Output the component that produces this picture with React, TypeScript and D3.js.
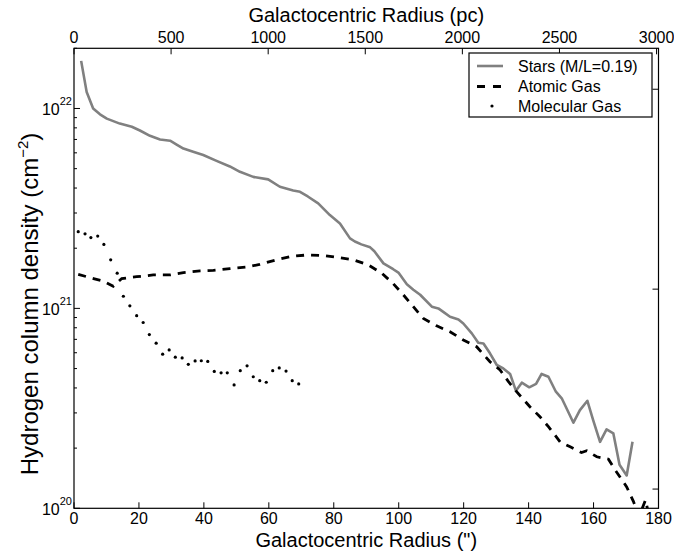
import React from "react";
import * as d3 from "d3";

// ---------- data ----------
const starsR = [2.2, 3.9, 5.9, 8.0, 10.1, 14.1, 17.8, 20.3, 23.4, 26.5, 29.6, 31.6, 33.7, 36.7, 39.8, 43.9, 48.0, 51.1, 55.2, 59.8, 63.4, 67.5, 69.6, 72.0, 75.2, 78.8, 81.9, 85.0, 86.5, 88.5, 91.2, 92.5, 95.3, 98.3, 99.9, 102.5, 104.5, 106.6, 110.2, 112.2, 113.5, 115.8, 118.4, 119.9, 122.5, 124.5, 126.1, 128.1, 130.2, 132.2, 134.3, 136.1, 137.9, 140.2, 142.3, 144.0, 146.1, 148.4, 150.2, 153.8, 155.8, 158.1, 159.9, 162.0, 164.0, 166.1, 168.0, 170.2, 172.0];
const starsN = [1.73e22, 1.21e22, 1.0e22, 9.35e21, 8.9e21, 8.4e21, 8.1e21, 7.76e21, 7.3e21, 7.0e21, 6.9e21, 6.6e21, 6.3e21, 6.07e21, 5.85e21, 5.47e21, 5.13e21, 4.82e21, 4.55e21, 4.42e21, 4.06e21, 3.89e21, 3.83e21, 3.63e21, 3.35e21, 2.93e21, 2.66e21, 2.24e21, 2.16e21, 2.09e21, 2.02e21, 1.93e21, 1.68e21, 1.57e21, 1.51e21, 1.32e21, 1.24e21, 1.17e21, 1.02e21, 1.0e21, 9.66e20, 9.08e20, 8.8e20, 8.4e20, 7.5e20, 6.73e20, 6.68e20, 5.96e20, 5.21e20, 5.01e20, 4.7e20, 3.87e20, 4.25e20, 4.03e20, 4.19e20, 4.7e20, 4.55e20, 3.83e20, 3.55e20, 2.68e20, 3.1e20, 3.45e20, 2.75e20, 2.15e20, 2.48e20, 2.37e20, 1.65e20, 1.46e20, 2.15e20];

const atomicR = [1.3, 6.0, 9.0, 12.1, 14.7, 19.3, 24.4, 29.6, 33.7, 38.8, 42.9, 48.0, 53.2, 57.2, 62.4, 67.0, 71.7, 76.5, 81.0, 86.0, 90.6, 94.8, 98.3, 101.4, 104.5, 107.6, 111.5, 115.8, 119.9, 124.0, 128.1, 131.2, 133.8, 136.3, 140.4, 143.5, 146.1, 149.7, 152.8, 156.3, 157.9, 161.0, 164.6, 166.6, 170.2, 172.3, 174.0, 176.0, 178.0];
const atomicN = [1.48e21, 1.41e21, 1.37e21, 1.29e21, 1.41e21, 1.44e21, 1.47e21, 1.47e21, 1.51e21, 1.54e21, 1.55e21, 1.58e21, 1.61e21, 1.66e21, 1.75e21, 1.82e21, 1.85e21, 1.84e21, 1.8e21, 1.75e21, 1.65e21, 1.5e21, 1.33e21, 1.17e21, 1.02e21, 8.9e20, 8.2e20, 7.64e20, 6.95e20, 6.43e20, 5.41e20, 4.92e20, 4.3e20, 3.83e20, 3.22e20, 2.87e20, 2.56e20, 2.15e20, 2.03e20, 1.9e20, 1.94e20, 1.81e20, 1.76e20, 1.56e20, 1.28e20, 1.08e20, 9.1e19, 1.1e20, 7.9e19];

const molR = [1.3, 3.4, 5.2, 7.3, 9.2, 11.3, 13.3, 15.2, 17.2, 19.3, 21.3, 23.2, 25.3, 27.3, 29.3, 31.2, 33.3, 35.2, 37.3, 39.2, 41.2, 43.2, 45.3, 47.2, 49.3, 51.2, 53.3, 55.2, 57.2, 59.2, 61.2, 63.2, 65.3, 67.2, 69.2];
const molN = [2.42e21, 2.36e21, 2.26e21, 2.3e21, 2.09e21, 1.75e21, 1.5e21, 1.15e21, 1.03e21, 9.2e20, 8.5e20, 7.4e20, 6.7e20, 5.9e20, 6.2e20, 5.7e20, 5.65e20, 5.25e20, 5.46e20, 5.47e20, 5.43e20, 4.84e20, 4.76e20, 4.76e20, 4.14e20, 4.88e20, 5.16e20, 4.55e20, 4.35e20, 4.27e20, 4.88e20, 5.04e20, 4.86e20, 4.35e20, 4.19e20];

const xTicks = [0, 20, 40, 60, 80, 100, 120, 140, 160, 180];
const pcTicks = [0, 500, 1000, 1500, 2000, 2500, 3000];
const yMajor = [1e20, 1e21, 1e22];
const rightTicks = [1, 10, 100]; // M_sun / pc^2
const legendLabels = ["Stars (M/L=0.19)", "Atomic Gas", "Molecular Gas"];

const FONT = "'Liberation Sans', Arial, Helvetica, sans-serif";

export default function App() {
  const W = 674, H = 557;
  const L = 74, R = 658.5, T = 48.3, B = 508.3;
  const x = d3.scaleLinear().domain([0, 180]).range([L, R]);
  const xpc = d3.scaleLinear().domain([0, 3010]).range([L, R]);
  const y = d3.scaleLog().domain([1e20, 2e22]).range([B, T]);
  const msunToN = 1.248e20;

  const minor: number[] = [];
  for (const dec of [1e20, 1e21]) for (let k = 2; k <= 9; k++) minor.push(k * dec);
  minor.push(2e22);

  const line = d3.line<[number, number]>().x(d => x(d[0])).y(d => y(d[1]));
  const stars = line(starsR.map((r, i) => [r, starsN[i]]));
  const atomic = line(atomicR.map((r, i) => [r, atomicN[i]]));

  const rowsY = [66, 86.5, 106];

  return (
    <svg width={W} height={H} style={{ position: "absolute", left: 0, top: 0, background: "#fff" }} fontFamily={FONT}>
      <defs>
        <clipPath id="plotclip">
          <rect x={L} y={T} width={R - L} height={B - T} />
        </clipPath>
      </defs>
      <rect x={0} y={0} width={W} height={H} fill="#fff" />

      {/* data */}
      <g clipPath="url(#plotclip)">
        <path d={stars || ""} fill="none" stroke="#808080" strokeWidth={2.6} strokeLinejoin="round" />
        <path d={atomic || ""} fill="none" stroke="#000" strokeWidth={2.8} strokeDasharray="8,7" />
        {molR.map((r, i) => (
          <circle key={i} cx={x(r)} cy={y(molN[i])} r={1.6} fill="#000" />
        ))}
      </g>

      {/* frame */}
      <rect x={L} y={T} width={R - L} height={B - T} fill="none" stroke="#000" strokeWidth={1.2} />

      {/* bottom ticks */}
      {xTicks.map(t => (
        <g key={"xb" + t}>
          <line x1={x(t)} x2={x(t)} y1={B} y2={B - 6} stroke="#000" strokeWidth={1} />
          <text x={x(t)} y={B + 15.5} fontSize={16} textAnchor="middle">{t}</text>
        </g>
      ))}
      {/* top ticks */}
      {pcTicks.map(t => (
        <g key={"xt" + t}>
          <line x1={xpc(t)} x2={xpc(t)} y1={T} y2={T + 6} stroke="#000" strokeWidth={1} />
          <text x={xpc(t)} y={T - 5} fontSize={16} textAnchor="middle">{t}</text>
        </g>
      ))}
      {/* left major ticks */}
      {yMajor.map(t => (
        <g key={"ym" + t}>
          <line x1={L} x2={L + 6} y1={y(t)} y2={y(t)} stroke="#000" strokeWidth={1} />
          <text x={72} y={y(t) + 7} fontSize={16} textAnchor="end">
            10<tspan dy={-10} fontSize={11}>{Math.round(Math.log10(t))}</tspan>
          </text>
        </g>
      ))}
      {minor.map(t => (
        <line key={"mn" + t} x1={L} x2={L + 3} y1={y(t)} y2={y(t)} stroke="#000" strokeWidth={1} />
      ))}
      {/* right ticks (surface density) */}
      {rightTicks.map(t => (
        <line key={"rt" + t} x1={R} x2={R - 6} y1={y(t * msunToN)} y2={y(t * msunToN)} stroke="#000" strokeWidth={1} />
      ))}

      {/* titles */}
      <text x={(L + R) / 2} y={22} fontSize={20} textAnchor="middle">Galactocentric Radius (pc)</text>
      <text x={(L + R) / 2} y={547} fontSize={20} textAnchor="middle">Galactocentric Radius (")</text>
      <text transform={`translate(38, 304) rotate(-90)`} fontSize={24} textAnchor="middle">
        Hydrogen column density (cm<tspan dy={-10} fontSize={15}>−2</tspan><tspan dy={10}>)</tspan>
      </text>

      {/* legend */}
      <rect x={469} y={53} width={183} height={64} fill="#fff" stroke="#000" strokeWidth={1.2} />
      <line x1={477} x2={503} y1={rowsY[0]} y2={rowsY[0]} stroke="#808080" strokeWidth={2.6} />
      <line x1={477} x2={503} y1={rowsY[1]} y2={rowsY[1]} stroke="#000" strokeWidth={2.8} strokeDasharray="8,8" />
      <circle cx={492} cy={rowsY[2]} r={1.6} fill="#000" />
      {legendLabels.map((lab, i) => (
        <text key={lab} x={518} y={rowsY[i] + 5.5} fontSize={16}>{lab}</text>
      ))}
    </svg>
  );
}
